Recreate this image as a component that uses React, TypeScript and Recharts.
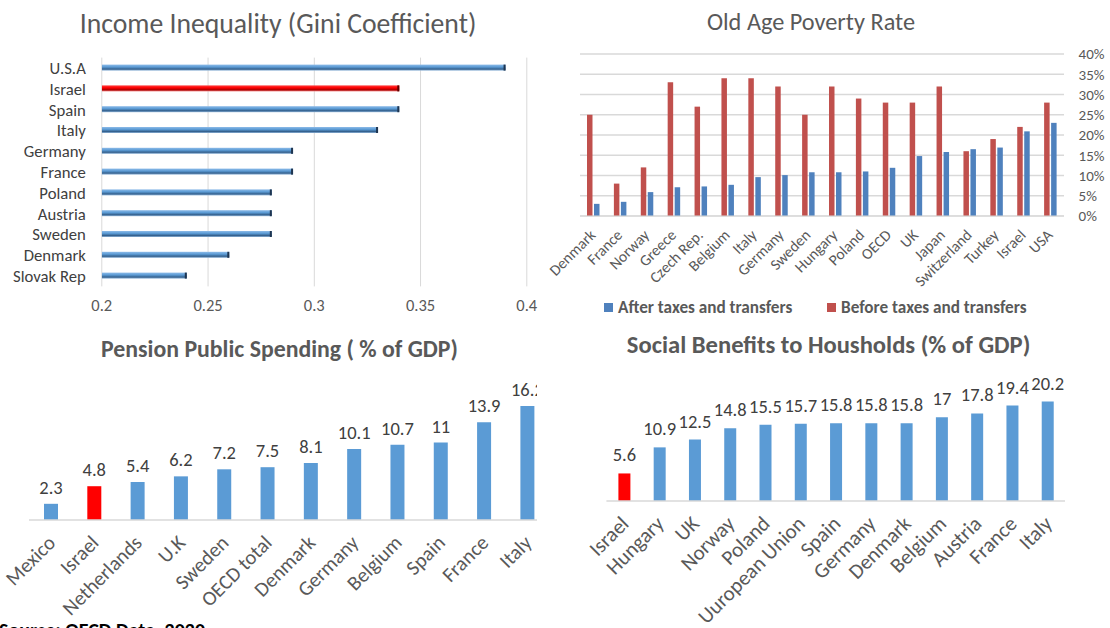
import React from 'react';
import { BarChart, Bar, XAxis, YAxis, CartesianGrid, Cell, LabelList, Legend } from 'recharts';

const FONT = "Carlito, Calibri, Lato, 'Open Sans', sans-serif";

// Panel 1: Gini
const giniCountries = ['U.S.A', 'Israel', 'Spain', 'Italy', 'Germany', 'France', 'Poland', 'Austria', 'Sweden', 'Denmark', 'Slovak Rep'];
const giniValues = [0.39, 0.34, 0.34, 0.33, 0.29, 0.29, 0.28, 0.28, 0.28, 0.26, 0.24];
const giniTicks = [0.2, 0.25, 0.3, 0.35, 0.4];

// Panel 2: Old age poverty
const povertyCountries = ['Denmark', 'France', 'Norway', 'Greece', 'Czech Rep.', 'Belgium', 'Italy', 'Germany', 'Sweden', 'Hungary', 'Poland', 'OECD', 'UK', 'Japan', 'Switzerland', 'Turkey', 'Israel', 'USA'];
const povertyAfter = [3.0, 3.5, 5.9, 7.1, 7.3, 7.7, 9.6, 10.1, 10.8, 10.8, 11.0, 11.9, 14.8, 15.8, 16.5, 16.9, 20.9, 23.0];
const povertyBefore = [25, 8, 12, 33, 27, 34, 34, 32, 25, 32, 29, 28, 28, 32, 16, 19, 22, 28];
const povertyTicks = [0, 5, 10, 15, 20, 25, 30, 35, 40];

// Panel 3: Pension
const pensionCountries = ['Mexico', 'Israel', 'Netherlands', 'U.K', 'Sweden', 'OECD total', 'Denmark', 'Germany', 'Belgium', 'Spain', 'France', 'Italy'];
const pensionValues = [2.3, 4.8, 5.4, 6.2, 7.2, 7.5, 8.1, 10.1, 10.7, 11, 13.9, 16.2];

// Panel 4: Social benefits
const benefitCountries = ['Israel', 'Hungary', 'UK', 'Norway', 'Poland', 'Uuropean Union', 'Spain', 'Germany', 'Denmark', 'Belgium', 'Austria', 'France', 'Italy'];
const benefitValues = [5.6, 10.9, 12.5, 14.8, 15.5, 15.7, 15.8, 15.8, 15.8, 17, 17.8, 19.4, 20.2];

const HIGHLIGHT = 'Israel';

const giniData = giniCountries.map((c, i) => ({ country: c, value: giniValues[i] }));
const povertyData = povertyCountries.map((c, i) => ({ country: c, after: povertyAfter[i], before: povertyBefore[i] }));
const pensionData = pensionCountries.map((c, i) => ({ country: c, value: pensionValues[i] }));
const benefitData = benefitCountries.map((c, i) => ({ country: c, value: benefitValues[i] }));

const CylBar = (props: any) => {
  const { x, y, width, height, payload } = props;
  if (!width || width <= 0) return null;
  const red = payload && payload.country === HIGHLIGHT;
  return (
    <g>
      <rect x={x} y={y} width={width} height={height} fill={red ? 'url(#gRed)' : 'url(#gBlue)'} />
      <rect x={x + width - 2} y={y} width={2} height={height} fill={red ? '#5a0000' : '#1f3550'} />
    </g>
  );
};

const makeRotTick = (fontSize: number, dx: number, dy: number, fill: string) => (p: any) => {
  const ax = p.x + dx;
  const ay = p.y + dy;
  return (
    <text x={ax} y={ay} transform={`rotate(-45 ${ax} ${ay})`} textAnchor="end" fontSize={fontSize} fill={fill} fontFamily={FONT}>
      {p.payload.value}
    </text>
  );
};

const PovTick = makeRotTick(15.5, 3, 12, '#595959');
const PenTick = makeRotTick(20.5, 6, 16, '#595959');
const BenTick = makeRotTick(21, 6, 16, '#595959');

const PovLegend = () => (
  <div style={{ position: 'relative', height: 20, width: 580, fontFamily: FONT, fontWeight: 700, fontSize: 17.2, color: '#595959' }}>
    <div style={{ position: 'absolute', left: 74, top: -1, display: 'flex', alignItems: 'center' }}>
      <span style={{ display: 'inline-block', width: 9, height: 9, background: '#4f81bd', marginRight: 5 }} />
      <span>After taxes and transfers</span>
    </div>
    <div style={{ position: 'absolute', left: 297, top: -1, display: 'flex', alignItems: 'center' }}>
      <span style={{ display: 'inline-block', width: 9, height: 9, background: '#c0504d', marginRight: 5 }} />
      <span>Before taxes and transfers</span>
    </div>
  </div>
);

const titleBase: React.CSSProperties = { position: 'absolute', fontFamily: FONT, color: '#595959', whiteSpace: 'nowrap', transform: 'translate(-50%, -50%)' };

export default function App() {
  return (
    <div style={{ position: 'absolute', left: 0, top: 0, width: 1110, height: 628, background: '#fff', overflow: 'hidden', fontFamily: FONT }}>
      {/* Titles */}
      <div style={{ ...titleBase, left: 278, top: 23, fontSize: 27.7 }}>Income Inequality (Gini Coefficient)</div>
      <div style={{ ...titleBase, left: 811, top: 22, fontSize: 24.3 }}>Old Age Poverty Rate</div>
      <div style={{ ...titleBase, left: 279.5, top: 348, fontSize: 23.8, fontWeight: 700 }}>Pension Public Spending ( % of GDP)</div>
      <div style={{ ...titleBase, left: 828.6, top: 345, fontSize: 24.6, fontWeight: 700 }}>Social Benefits to Housholds (% of GDP)</div>

      {/* Panel 1 */}
      <div style={{ position: 'absolute', left: 0, top: 0 }}>
        <BarChart width={560} height={330} data={giniData} layout="vertical" margin={{ top: 57.6, right: 33.2, bottom: 13.6, left: 0 }}>
          <defs>
            <linearGradient id="gBlue" x1="0" y1="0" x2="0" y2="1">
              <stop offset="0%" stopColor="#8dbbe8" />
              <stop offset="40%" stopColor="#5b9bd5" />
              <stop offset="75%" stopColor="#36628f" />
              <stop offset="100%" stopColor="#8fb4d8" />
            </linearGradient>
            <linearGradient id="gRed" x1="0" y1="0" x2="0" y2="1">
              <stop offset="0%" stopColor="#ff4040" />
              <stop offset="40%" stopColor="#ff0000" />
              <stop offset="75%" stopColor="#a80000" />
              <stop offset="100%" stopColor="#f08080" />
            </linearGradient>
          </defs>
          <CartesianGrid horizontal={false} stroke="#d9d9d9" />
          <XAxis type="number" domain={[0.2, 0.4]} ticks={giniTicks} allowDataOverflow axisLine={false} tickLine={false} tickSize={0} tickMargin={13} height={30} tick={{ fontSize: 16.5, fill: '#595959', fontFamily: FONT }} />
          <YAxis type="category" dataKey="country" width={101.8} interval={0} axisLine={false} tickLine={false} tickSize={0} tickMargin={16} tick={{ fontSize: 16.7, fill: '#404040', fontFamily: FONT }} />
          <Bar dataKey="value" barSize={6} isAnimationActive={false} shape={CylBar} />
        </BarChart>
      </div>

      {/* Panel 2 */}
      <div style={{ position: 'absolute', left: 530, top: 0 }}>
        <BarChart width={580} height={318} data={povertyData} margin={{ top: 54, right: 6, bottom: 0, left: 50 }} barSize={5.5} barGap={1.5}>
          <CartesianGrid vertical={false} stroke="#d9d9d9" strokeWidth={1.3} />
          <XAxis dataKey="country" interval={0} axisLine={{ stroke: '#d9d9d9' }} tickLine={false} height={82} tick={PovTick} />
          <YAxis orientation="right" domain={[0, 40]} ticks={povertyTicks} interval={0} tickFormatter={(v: number) => `${v}%`} axisLine={false} tickLine={false} tickSize={0} tickMargin={14.6} width={40} tick={{ fontSize: 15, fill: '#595959', fontFamily: FONT, textAnchor: 'start' }} />
          <Legend verticalAlign="bottom" height={20} content={PovLegend} wrapperStyle={{ left: 0, width: 580 }} />
          <Bar dataKey="before" fill="#c0504d" isAnimationActive={false} />
          <Bar dataKey="after" fill="#4f81bd" isAnimationActive={false} />
        </BarChart>
      </div>

      {/* Panel 3 */}
      <div style={{ position: 'absolute', left: 0, top: 360, width: 537, height: 268, overflow: 'hidden' }}>
        <BarChart width={580} height={268} data={pensionData} margin={{ top: 19.2, right: 31.3, bottom: 0, left: 29 }}>
          <XAxis dataKey="country" interval={0} axisLine={{ stroke: '#d9d9d9', strokeWidth: 1.5 }} tickLine={false} height={108} tick={PenTick} />
          <YAxis hide domain={[0, 20]} />
          <Bar dataKey="value" barSize={14} isAnimationActive={false}>
            {pensionData.map((d) => (
              <Cell key={d.country} fill={d.country === HIGHLIGHT ? '#ff0000' : '#5b9bd5'} />
            ))}
            <LabelList dataKey="value" position="top" offset={10} fontSize={18.5} fill="#404040" fontFamily={FONT} />
          </Bar>
        </BarChart>
      </div>

      {/* Panel 4 */}
      <div style={{ position: 'absolute', left: 550, top: 360 }}>
        <BarChart width={560} height={268} data={benefitData} margin={{ top: 18, right: 45, bottom: 0, left: 56.4 }}>
          <XAxis dataKey="country" interval={0} axisLine={{ stroke: '#d9d9d9', strokeWidth: 1.5 }} tickLine={false} height={127} tick={BenTick} />
          <YAxis hide domain={[0, 25]} />
          <Bar dataKey="value" barSize={12} isAnimationActive={false}>
            {benefitData.map((d) => (
              <Cell key={d.country} fill={d.country === HIGHLIGHT ? '#ff0000' : '#5b9bd5'} />
            ))}
            <LabelList dataKey="value" position="top" offset={12} fontSize={18.5} fill="#404040" fontFamily={FONT} />
          </Bar>
        </BarChart>
      </div>

      {/* Footer */}
      <div style={{ position: 'absolute', left: -1, top: 618, fontSize: 20, fontWeight: 700, color: '#000', whiteSpace: 'nowrap', fontFamily: FONT }}>Source: OECD Data, 2020</div>
    </div>
  );
}
